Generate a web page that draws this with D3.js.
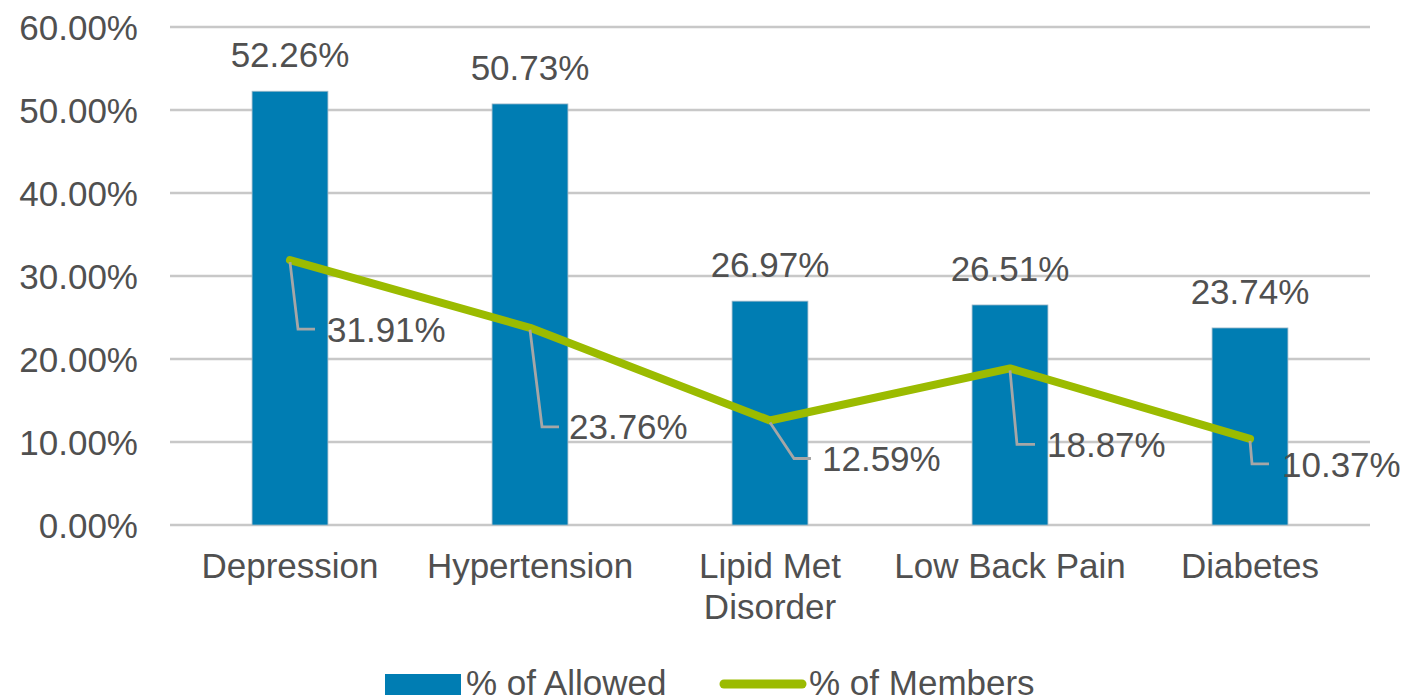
<!DOCTYPE html>
<html>
<head>
<meta charset="utf-8">
<script src="https://cdn.jsdelivr.net/npm/d3@7"></script>
<style>
  html, body { margin: 0; padding: 0; background: #ffffff; }
  svg { display: block; }
  text { font-family: "Liberation Sans", Arial, sans-serif; fill: #505050; }
</style>
</head>
<body>
<svg id="chart" width="1421" height="698"></svg>
<script>
// Chart data
const categories = ["Depression", "Hypertension", "Lipid Met Disorder", "Low Back Pain", "Diabetes"];
const categoryLines = [["Depression"], ["Hypertension"], ["Lipid Met", "Disorder"], ["Low Back Pain"], ["Diabetes"]];
const pctAllowed = [52.26, 50.73, 26.97, 26.51, 23.74];
const pctMembers = [31.91, 23.76, 12.59, 18.87, 10.37];
const yTicks = [0, 10, 20, 30, 40, 50, 60];
const seriesNames = ["% of Allowed", "% of Members"];

// Label placement for the line series (pixel offsets from each point)
const memberLabelOffsets = [
  { dx: 37, dy: 69, elbowX: 8, legX: 25 },
  { dx: 39, dy: 99, elbowX: 12, legX: 29 },
  { dx: 52, dy: 38, elbowX: 24, legX: 41 },
  { dx: 37, dy: 76, elbowX: 7, legX: 25 },
  { dx: 32, dy: 25, elbowX: 2, legX: 19 }
];

const BAR_COLOR = "#007db3";
const LINE_COLOR = "#9bbb00";
const GRID_COLOR = "#c8c8c8";
const LEADER_COLOR = "#a6a6a6";
const FONT_SIZE = 35;

const svg = d3.select("#chart");
const plot = { left: 170, right: 1370, top: 27, bottom: 525 };

const x = d3.scaleBand()
  .domain(categories)
  .range([plot.left, plot.right])
  .paddingInner(0.684)
  .paddingOuter(0.342);

const y = d3.scaleLinear()
  .domain([0, 60])
  .range([plot.bottom, plot.top]);

const fmt = v => v.toFixed(2) + "%";

// Horizontal gridlines
svg.append("g")
  .selectAll("line")
  .data(yTicks)
  .join("line")
  .attr("x1", plot.left)
  .attr("x2", plot.right)
  .attr("y1", d => y(d))
  .attr("y2", d => y(d))
  .attr("stroke", GRID_COLOR)
  .attr("stroke-width", 2.5);

// Y axis tick labels
const yAxis = d3.axisLeft(y).tickValues(yTicks).tickSize(0).tickPadding(0).tickFormat(fmt);
const gy = svg.append("g")
  .attr("transform", `translate(${plot.left - 32},0)`)
  .call(yAxis);
gy.select(".domain").remove();
gy.selectAll("text")
  .attr("font-size", FONT_SIZE)
  .attr("font-family", "Liberation Sans, Arial, sans-serif")
  .attr("fill", "#505050")
  .attr("dy", "0.36em");

// Bars
svg.append("g")
  .selectAll("rect")
  .data(categories)
  .join("rect")
  .attr("x", d => x(d))
  .attr("width", x.bandwidth())
  .attr("y", (d, i) => y(pctAllowed[i]))
  .attr("height", (d, i) => y(0) - y(pctAllowed[i]))
  .attr("fill", BAR_COLOR)
  .attr("stroke", "#9fb9c9")
  .attr("stroke-width", 0.8);

// Bar value labels
svg.append("g")
  .selectAll("text")
  .data(categories)
  .join("text")
  .attr("x", d => x(d) + x.bandwidth() / 2)
  .attr("y", (d, i) => y(pctAllowed[i]) - 24)
  .attr("text-anchor", "middle")
  .attr("font-size", FONT_SIZE)
  .text((d, i) => fmt(pctAllowed[i]));

// X axis category labels
const cx = d => x(d) + x.bandwidth() / 2;
const xl = svg.append("g");
categories.forEach((c, i) => {
  const t = xl.append("text")
    .attr("x", cx(c))
    .attr("y", 578)
    .attr("text-anchor", "middle")
    .attr("font-size", FONT_SIZE);
  categoryLines[i].forEach((ln, j) => {
    t.append("tspan").attr("x", cx(c)).attr("dy", j === 0 ? 0 : 41).text(ln);
  });
});

// Line series
const pts = categories.map((c, i) => [cx(c), y(pctMembers[i])]);
svg.append("path")
  .datum(pts)
  .attr("d", d3.line())
  .attr("fill", "none")
  .attr("stroke", LINE_COLOR)
  .attr("stroke-width", 8)
  .attr("stroke-linejoin", "round")
  .attr("stroke-linecap", "round");

// Leader lines and line value labels
const lbl = svg.append("g");
pts.forEach((p, i) => {
  const o = memberLabelOffsets[i];
  const ly = p[1] + o.dy;
  lbl.append("polyline")
    .attr("points", [[p[0], p[1] + 2], [p[0] + o.elbowX, ly], [p[0] + o.legX, ly]].map(q => q.join(",")).join(" "))
    .attr("fill", "none")
    .attr("stroke", LEADER_COLOR)
    .attr("stroke-width", 2.8);
  lbl.append("text")
    .attr("x", p[0] + o.dx)
    .attr("y", ly)
    .attr("dy", "0.36em")
    .attr("font-size", FONT_SIZE)
    .text(fmt(pctMembers[i]));
});

// Legend
const lg = svg.append("g");
lg.append("rect")
  .attr("x", 385).attr("y", 674).attr("width", 76).attr("height", 21)
  .attr("fill", BAR_COLOR);
lg.append("text")
  .attr("x", 466).attr("y", 682).attr("dy", "0.36em")
  .attr("font-size", FONT_SIZE)
  .text(seriesNames[0]);
lg.append("line")
  .attr("x1", 724).attr("x2", 802).attr("y1", 684).attr("y2", 684)
  .attr("stroke", LINE_COLOR).attr("stroke-width", 9).attr("stroke-linecap", "round");
lg.append("text")
  .attr("x", 809).attr("y", 682).attr("dy", "0.36em")
  .attr("font-size", FONT_SIZE)
  .text(seriesNames[1]);
</script>
</body>
</html>
